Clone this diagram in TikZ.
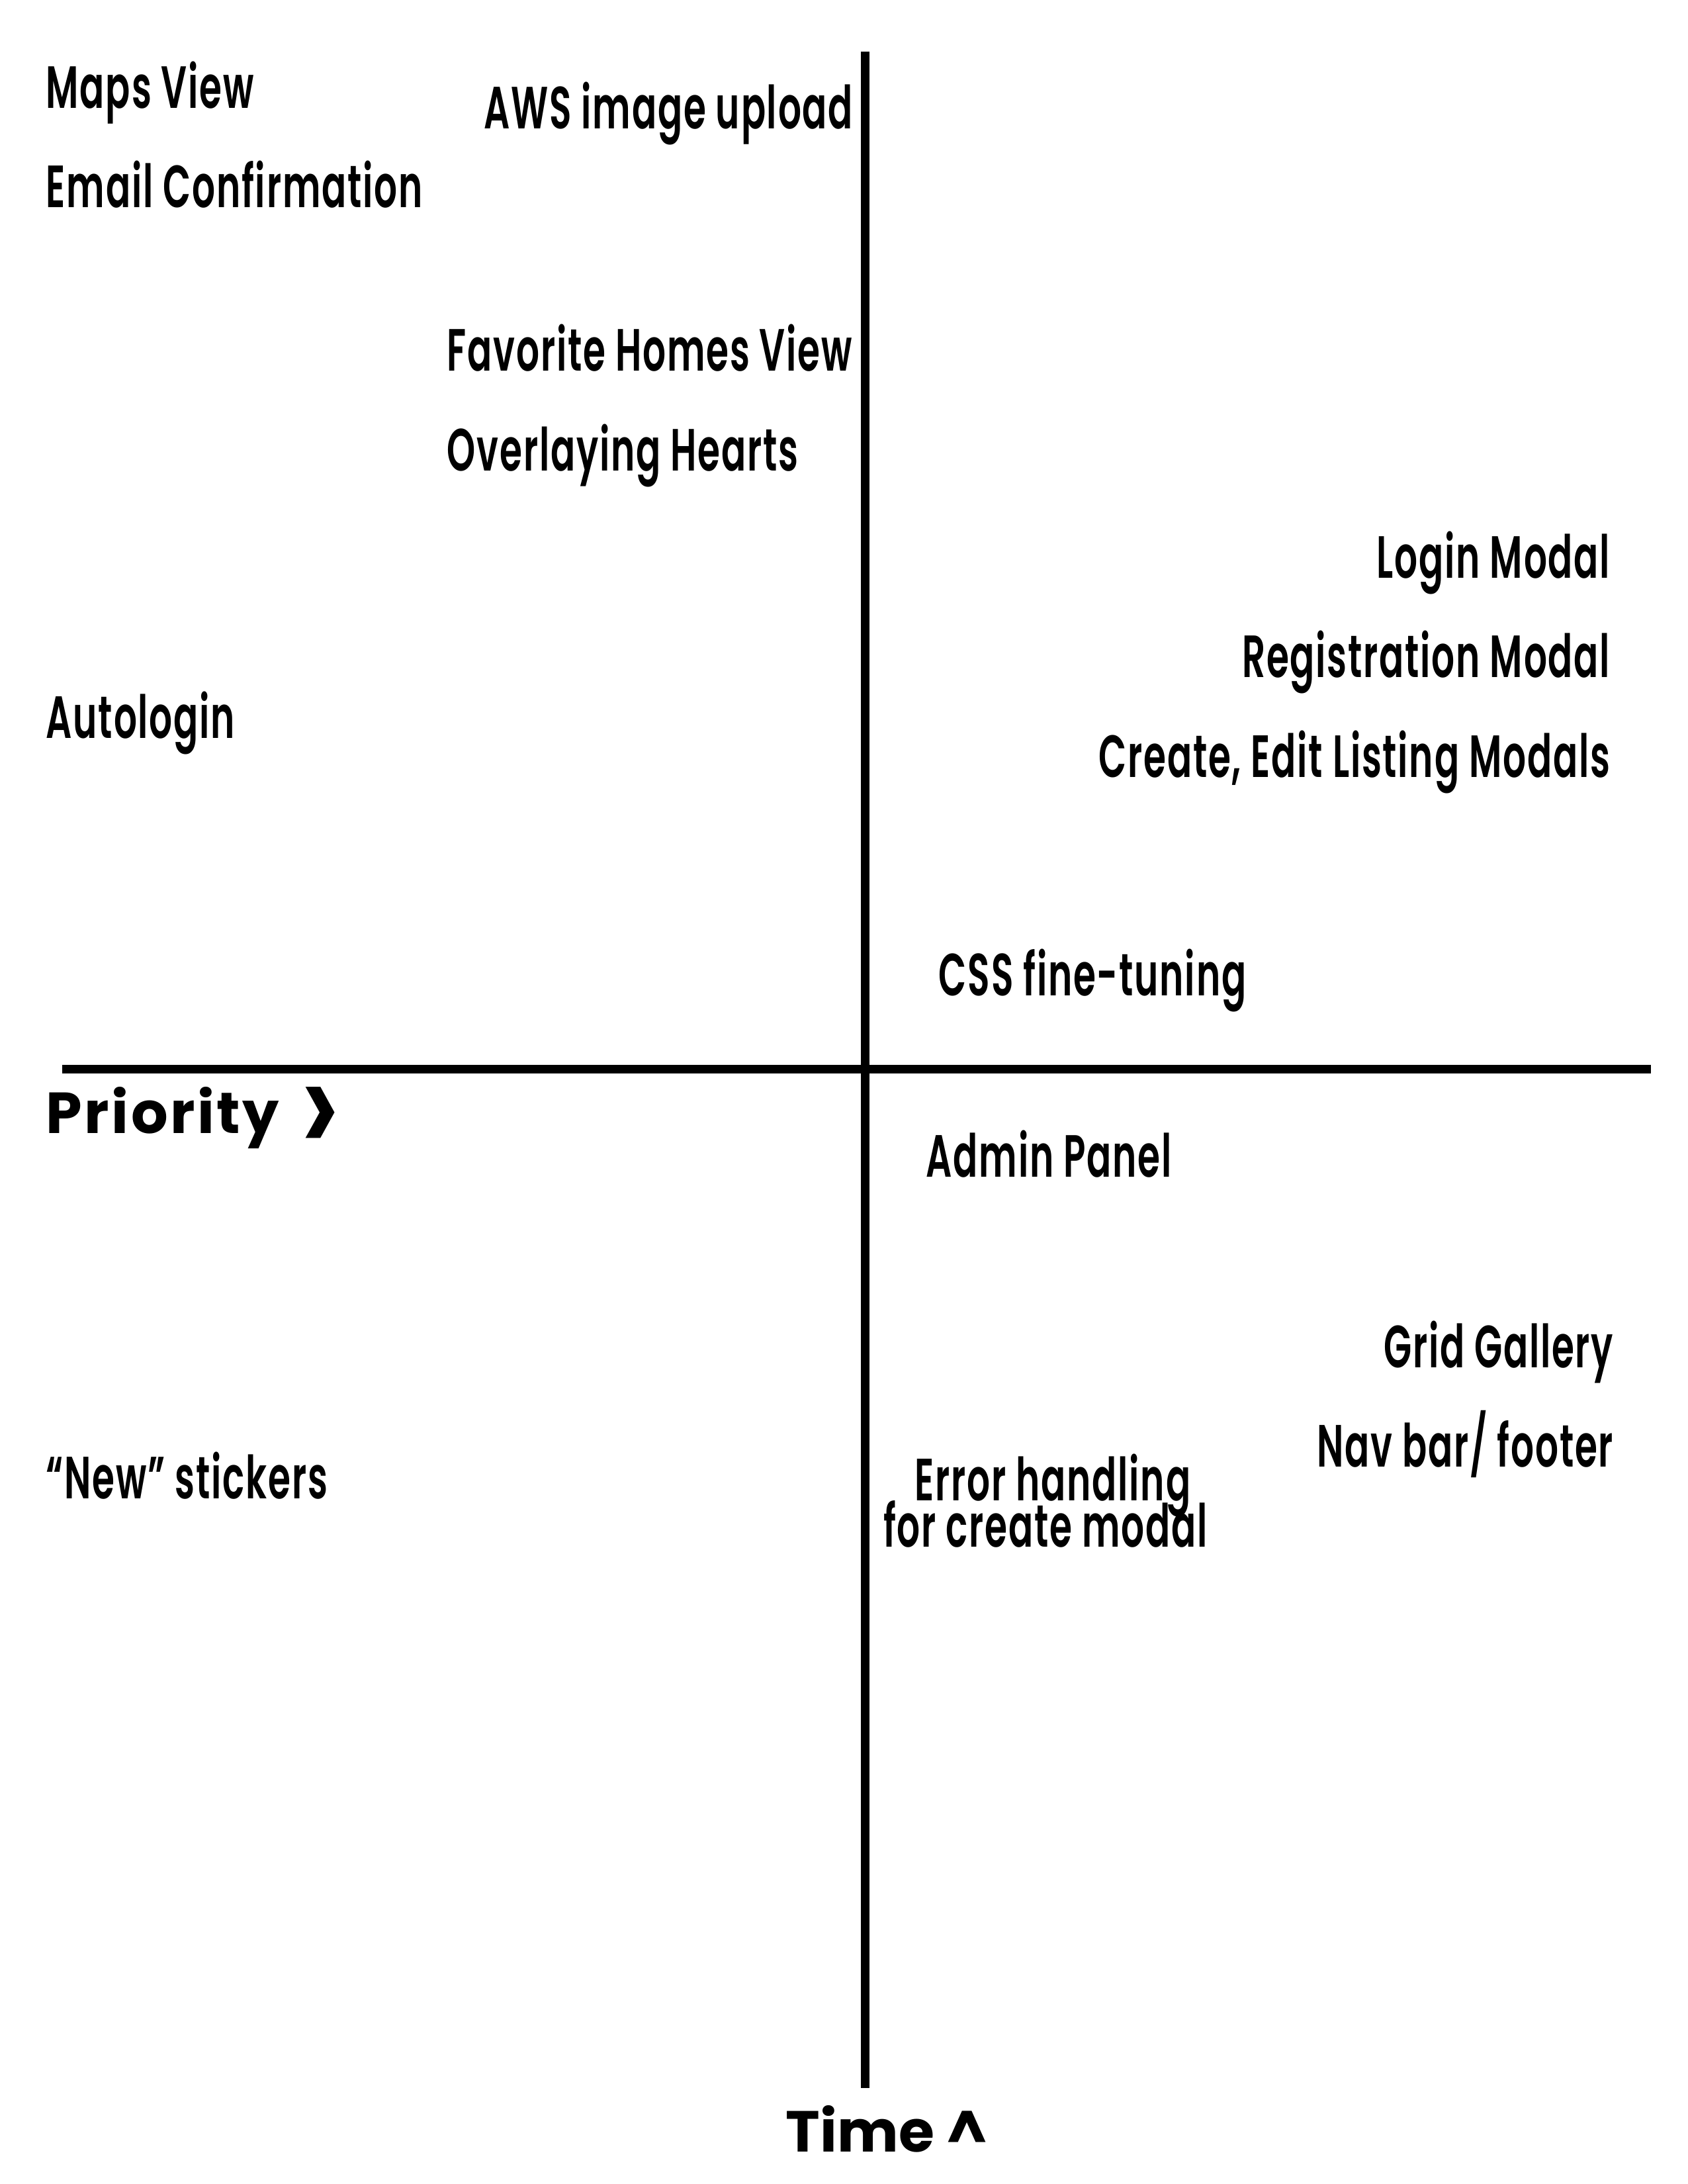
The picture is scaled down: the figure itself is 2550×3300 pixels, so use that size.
\documentclass[tikz,border=0pt]{standalone}
\usepackage{fontspec}
\setmainfont{Poppins}
\newfontfamily\condfont{Poppins SemiBold}[FakeStretch=0.61, LetterSpace=2]
\newfontfamily\priofont{Poppins}[LetterSpace=4]
\begin{document}
\begin{tikzpicture}[x=0.24pt,y=-0.24pt,
  lbl/.style={font=\condfont\fontsize{21.6pt}{24pt}\selectfont, inner sep=0pt},
  axislbl/.style={font=\fontsize{21pt}{24pt}\selectfont\bfseries, inner sep=0pt},
  axis/.style={line width=3.12pt}]
\useasboundingbox (0,0) rectangle (2550,3300);
\coordinate (vtop) at (1307,78);
\coordinate (vbot) at (1307,3155);
\coordinate (hleft) at (94,1615);
\coordinate (hright) at (2495,1615);
\draw[axis] (vtop) -- (vbot);
\draw[axis] (hleft) -- (hright);
% top-left quadrant
\node[lbl, anchor=base west] (maps) at (69,163) {Maps View};
\node[lbl, anchor=base east] (aws) at (1290,194) {AWS image upload};
\node[lbl, anchor=base west] (email) at (69,313) {Email Confirmation};
\node[lbl, anchor=base west] (fav) at (675,560) {Favorite Homes View};
\node[lbl, anchor=base west] (hearts) at (675,711) {Overlaying Hearts};
\node[lbl, anchor=base west] (auto) at (69,1115) {Autologin};
% top-right quadrant
\node[lbl, anchor=base east] (login) at (2434,873) {Login Modal};
\node[lbl, anchor=base east] (reg) at (2434,1023) {Registration Modal};
\node[lbl, anchor=base east] (create) at (2434,1174) {Create, Edit Listing Modals};
\node[lbl, anchor=base west] (css) at (1418,1504) {CSS fine-tuning};
% axis labels
\node[axislbl, font=\priofont\fontsize{21pt}{24pt}\selectfont\bfseries, anchor=base west] (prio) at (69,1712) {Priority\hspace{8pt}\raisebox{-7.4pt}{\scalebox{1.2}[2.0]{>}}};
\node[axislbl, anchor=base west] (time) at (1187,3251) {Time \^{}};
% bottom-right quadrant
\node[lbl, anchor=base west] (admin) at (1399,1778) {Admin Panel};
\node[lbl, anchor=base east] (grid) at (2439,2066) {Grid Gallery};
\node[lbl, anchor=base east] (nav) at (2439,2216) {Nav bar/ footer};
\node[lbl, anchor=base] (err1) at (1591,2267) {Error handling};
\node[lbl, anchor=base] (err2) at (1580,2337) {for create modal};
% bottom-left quadrant
\node[lbl, anchor=base west] (new) at (69,2264) {“New” stickers};
\end{tikzpicture}
\end{document}
